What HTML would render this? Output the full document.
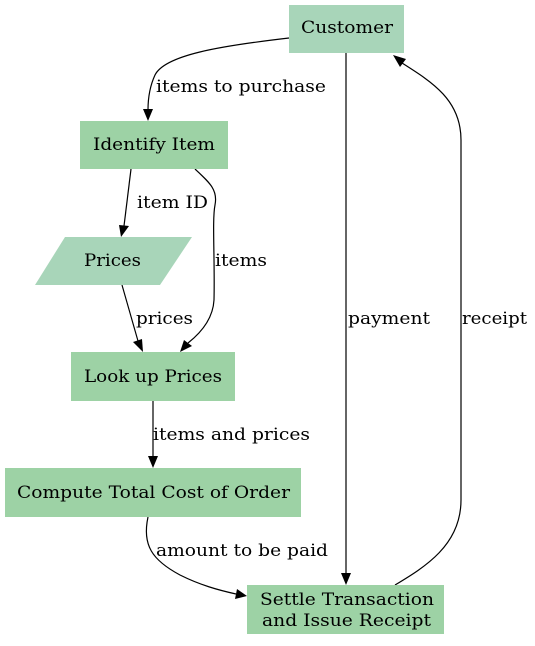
<!DOCTYPE html>
<html><head><style>
html,body{margin:0;padding:0;background:#fff;}
svg text{font-family:"DejaVu Serif","Liberation Serif",serif;font-size:17px;fill:#000;}
</style></head><body>
<svg width="535" height="641" viewBox="0 0 535 641" xmlns="http://www.w3.org/2000/svg">
<g stroke="#000" stroke-width="1.2" fill="none">
<path d="M289,38 C220,46 165,55 155,75 C149,88 148,100 148,110"/>
<path d="M131,169 L124,226"/>
<path d="M195,169 C210,183 218,190 215,205 C212,220 215,260 214,300 C213,318 202,332 188,343"/>
<path d="M122,285 L138,341"/>
<path d="M153,401 L153,457"/>
<path d="M148,517 C142,545 152,560 180,575 C200,585 218,590 236,594"/>
<path d="M346,53 L346,574"/>
<path d="M395,585 C425,567 461,545 461,500 L461,140 C461,100 432,82 402,63"/>
</g>
<g fill="#000">
<polygon points="148,121 143,109 153,109"/>
<polygon points="121,237 119,225 129,226"/>
<polygon points="180,352 184,340 192,346"/>
<polygon points="143,352 133,342 142,339"/>
<polygon points="153,468 148,456 158,456"/>
<polygon points="247,596 235,599 237,589"/>
<polygon points="346,585 341,573 351,573"/>
<polygon points="393,55 406,59 400,67"/>
</g>
<rect x="289" y="5" width="115" height="48" fill="#a8d5b9"/>
<rect x="80" y="121" width="148" height="48" fill="#9dd2a5"/>
<polygon points="65,237 192,237 160,285 35,285" fill="#a8d5b9"/>
<rect x="71" y="352" width="164" height="49" fill="#9dd2a5"/>
<rect x="5" y="468" width="296" height="49" fill="#9dd2a5"/>
<rect x="247" y="585" width="197" height="49" fill="#9dd2a5"/>
<g>
<text x="301" y="33" textLength="92" lengthAdjust="spacingAndGlyphs">Customer</text>
<text x="93" y="150" textLength="122" lengthAdjust="spacingAndGlyphs">Identify Item</text>
<text x="84" y="266" textLength="57" lengthAdjust="spacingAndGlyphs">Prices</text>
<text x="84" y="382" textLength="138" lengthAdjust="spacingAndGlyphs">Look up Prices</text>
<text x="17" y="498" textLength="273" lengthAdjust="spacingAndGlyphs">Compute Total Cost of Order</text>
<text x="260" y="605" textLength="174" lengthAdjust="spacingAndGlyphs">Settle Transaction</text>
<text x="262" y="626" textLength="169" lengthAdjust="spacingAndGlyphs">and Issue Receipt</text>
<text x="156" y="92" textLength="170" lengthAdjust="spacingAndGlyphs">items to purchase</text>
<text x="137" y="208" textLength="71" lengthAdjust="spacingAndGlyphs">item ID</text>
<text x="215" y="266" textLength="52" lengthAdjust="spacingAndGlyphs">items</text>
<text x="136" y="324" textLength="57" lengthAdjust="spacingAndGlyphs">prices</text>
<text x="153" y="440" textLength="157" lengthAdjust="spacingAndGlyphs">items and prices</text>
<text x="156" y="556" textLength="172" lengthAdjust="spacingAndGlyphs">amount to be paid</text>
<text x="348" y="324" textLength="82" lengthAdjust="spacingAndGlyphs">payment</text>
<text x="462" y="324" textLength="65" lengthAdjust="spacingAndGlyphs">receipt</text>
</g>
</svg>
</body></html>
